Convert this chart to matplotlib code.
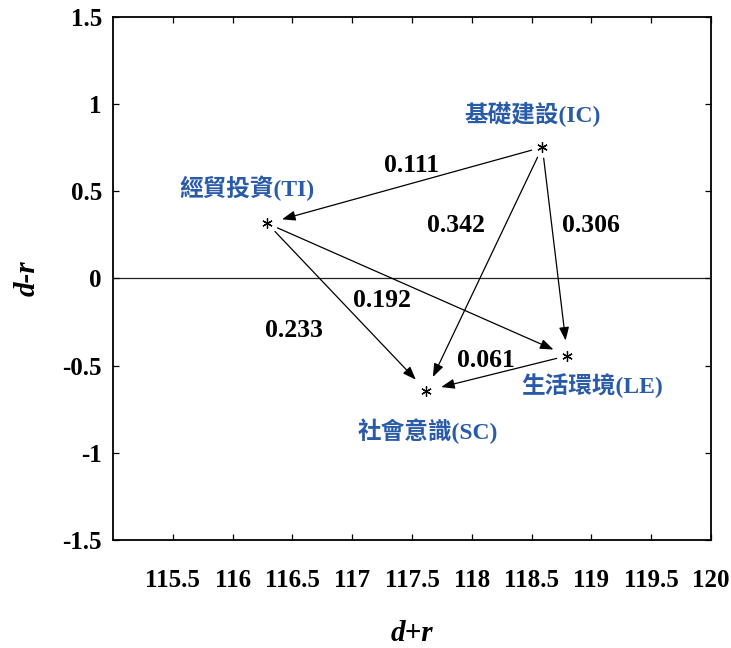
import matplotlib
matplotlib.use("Agg")
import matplotlib.pyplot as plt
from matplotlib.patches import FancyArrowPatch

# --- data -------------------------------------------------------------------

codes = ["IC", "TI", "SC", "LE"]
names = ["基礎建設(IC)", "經貿投資(TI)", "社會意識(SC)", "生活環境(LE)"]
d_plus_r = [118.59, 116.29, 117.62, 118.80]
d_minus_r = [0.753, 0.316, -0.644, -0.443]

# label anchor (centre) for each dimension name
name_x = [118.51, 116.12, 117.63, 119.01]
name_y = [0.943, 0.517, -0.874, -0.615]

# influence arrows: (from, to, strength, label x, label y)
edge_from = ["IC", "IC", "IC", "TI", "TI", "LE"]
edge_to = ["TI", "SC", "LE", "SC", "LE", "SC"]
edge_val = ["0.111", "0.342", "0.306", "0.233", "0.192", "0.061"]
edge_lx = [117.50, 117.87, 119.00, 116.51, 117.25, 118.12]
edge_ly = [0.649, 0.305, 0.305, -0.299, -0.126, -0.471]

x_ticks = [115.5, 116, 116.5, 117, 117.5, 118, 118.5, 119, 119.5, 120]
x_ticklabels = ["115.5", "116", "116.5", "117", "117.5", "118", "118.5",
                "119", "119.5", "120"]
y_ticks = [-1.5, -1, -0.5, 0, 0.5, 1, 1.5]
y_ticklabels = ["-1.5", "-1", "-0.5", "0", "0.5", "1", "1.5"]

# --- plot -------------------------------------------------------------------

SERIF = "Liberation Serif"
LABEL_FAMILY = ["Liberation Serif", "Noto Sans CJK TC"]
BLUE = "#2a5ba8"

fig = plt.figure(figsize=(7.31, 6.48), dpi=100)
ax = fig.add_axes([0.1546, 0.1667, 0.818, 0.8071])

ax.set_xlim(115, 120)
ax.set_ylim(-1.5, 1.5)
ax.axhline(0, color="#222222", lw=0.9, zorder=1)

pos = {c: (x, y) for c, x, y in zip(codes, d_plus_r, d_minus_r)}

ax.plot(d_plus_r, d_minus_r, ls="none", marker=(6, 2, 0), ms=7.5,
        mew=0.9, color="black", zorder=3)

for c, n, lx, ly in zip(codes, names, name_x, name_y):
    ax.text(lx, ly, n, ha="center", va="center", color=BLUE,
            fontsize=17, fontweight="bold", family=LABEL_FAMILY)

for a, b, v, lx, ly in zip(edge_from, edge_to, edge_val, edge_lx, edge_ly):
    arr = FancyArrowPatch(pos[a], pos[b],
                          arrowstyle="-|>,head_length=8,head_width=3",
                          shrinkA=8, shrinkB=11, color="black", lw=0.9,
                          mutation_scale=1, zorder=2)
    ax.add_patch(arr)
    ax.text(lx, ly, v, ha="center", va="center", fontsize=18.5,
            fontweight="bold", family=SERIF)

ax.set_xticks(x_ticks)
ax.set_xticklabels(x_ticklabels)
ax.set_yticks(y_ticks)
ax.set_yticklabels(y_ticklabels)
ax.tick_params(direction="in", length=4, width=0.9, top=True, right=True,
               pad=21, labelsize=18)
ax.tick_params(axis="y", pad=8)
for lab in ax.get_xticklabels() + ax.get_yticklabels():
    lab.set_family(SERIF)
    lab.set_fontweight("bold")
for sp in ax.spines.values():
    sp.set_linewidth(1.3)

ax.set_xlabel("d+r", fontsize=21, family=SERIF, fontweight="bold",
              style="italic", labelpad=20)
ax.set_ylabel("d-r", fontsize=21, family=SERIF, fontweight="bold",
              style="italic", labelpad=16)

fig.savefig("out.png", dpi=100)
